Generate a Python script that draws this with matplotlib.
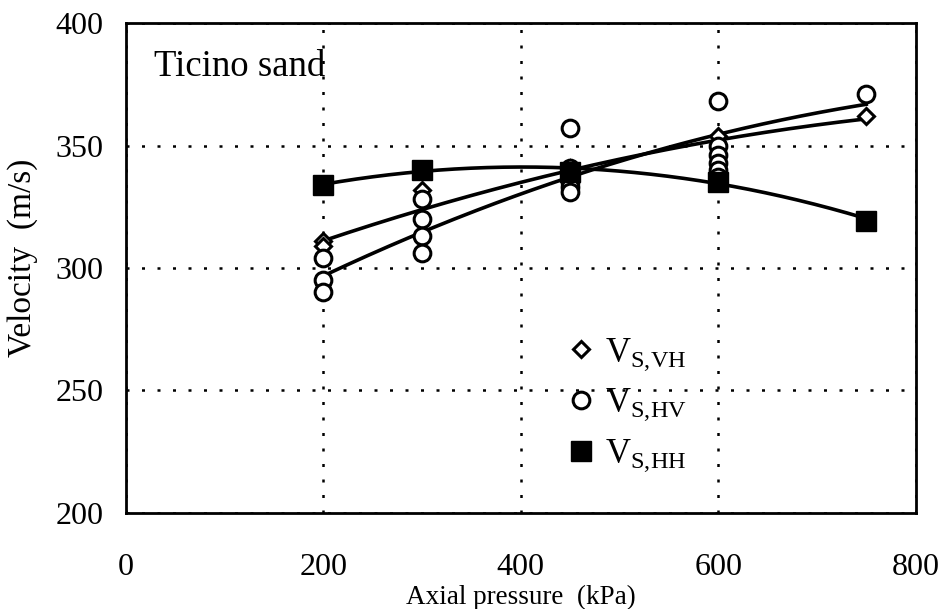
import matplotlib
matplotlib.use("Agg")
import matplotlib.pyplot as plt
import numpy as np

plt.rcParams['font.family'] = ['Liberation Serif', 'DejaVu Serif']
plt.rcParams['mathtext.fontset'] = 'custom'
plt.rcParams['mathtext.rm'] = 'Liberation Serif'
plt.rcParams['mathtext.it'] = 'Liberation Serif:italic'

# measured points (axial pressure kPa, shear wave velocity m/s)
vh_x = [200, 200, 300, 450, 450, 600, 750]
vh_y = [311, 309, 332, 341, 339, 354, 362]

hv_x = [200, 200, 200, 300, 300, 300, 300, 450, 450, 450, 450, 450, 450,
        600, 600, 600, 600, 600, 600, 750]
hv_y = [304, 295, 290, 328, 320, 313, 306, 357, 341, 338, 335, 333, 331,
        368, 350, 346, 343, 340, 337, 371]

hh_x = [200, 300, 450, 600, 750]
hh_y = [334, 340, 339, 335, 319]

# trend curves
fit_x = [200, 300, 450, 600, 750]
fit_vh = [311, 324, 340, 352, 361]
fit_hv = [297, 314, 338, 354, 367]
fit_hh = [334, 340, 340, 335, 320]

fig = plt.figure(figsize=(9.41, 6.09), dpi=100)
ax = fig.add_axes([0.134, 0.158, 0.839, 0.804])

xs = np.linspace(200, 750, 200)
for fy in (fit_vh, fit_hv, fit_hh):
    c = np.polyfit(fit_x, fy, 2)
    ax.plot(xs, np.polyval(c, xs), color='black', lw=2.6, zorder=2)

ax.plot(vh_x, vh_y, 'D', ms=8, mfc='white', mec='black', mew=2.2, ls='none',
        zorder=3, label=r'V$_{\mathrm{S{,}VH}}$')
ax.plot(hv_x, hv_y, 'o', ms=12, mfc='white', mec='black', mew=2.2, ls='none',
        zorder=3, label=r'V$_{\mathrm{S{,}HV}}$')
ax.plot(hh_x, hh_y, 's', ms=14, mfc='black', mec='black', ls='none',
        zorder=4, label=r'V$_{\mathrm{S{,}HH}}$')

ax.set_xlim(0, 800)
ax.set_ylim(200, 400)
ax.set_xticks([0, 200, 400, 600, 800])
ax.set_yticks([200, 250, 300, 350, 400])
ax.grid(True, color='black', ls=(0, (1.2, 5)), lw=1.8)
ax.tick_params(length=0, labelsize=23)
ax.tick_params(axis='x', pad=29)
ax.tick_params(axis='y', pad=16)
for s in ax.spines.values():
    s.set_linewidth(2)

ax.set_xlabel('Axial pressure  (kPa)', fontsize=19.5)
ax.xaxis.set_label_coords(0.5, -0.148)
ax.set_ylabel('Velocity  (m/s)', fontsize=24)
ax.yaxis.set_label_coords(-0.112, 0.52)

ax.text(0.035, 0.91, 'Ticino sand', transform=ax.transAxes, fontsize=26.5,
        va='center', ha='left')

ax.legend(loc='upper left', bbox_to_anchor=(0.536, 0.39), frameon=False,
          fontsize=25, handlelength=1.0, handletextpad=0.2, labelspacing=0.4,
          borderaxespad=0)

fig.savefig('out.png', dpi=100)
